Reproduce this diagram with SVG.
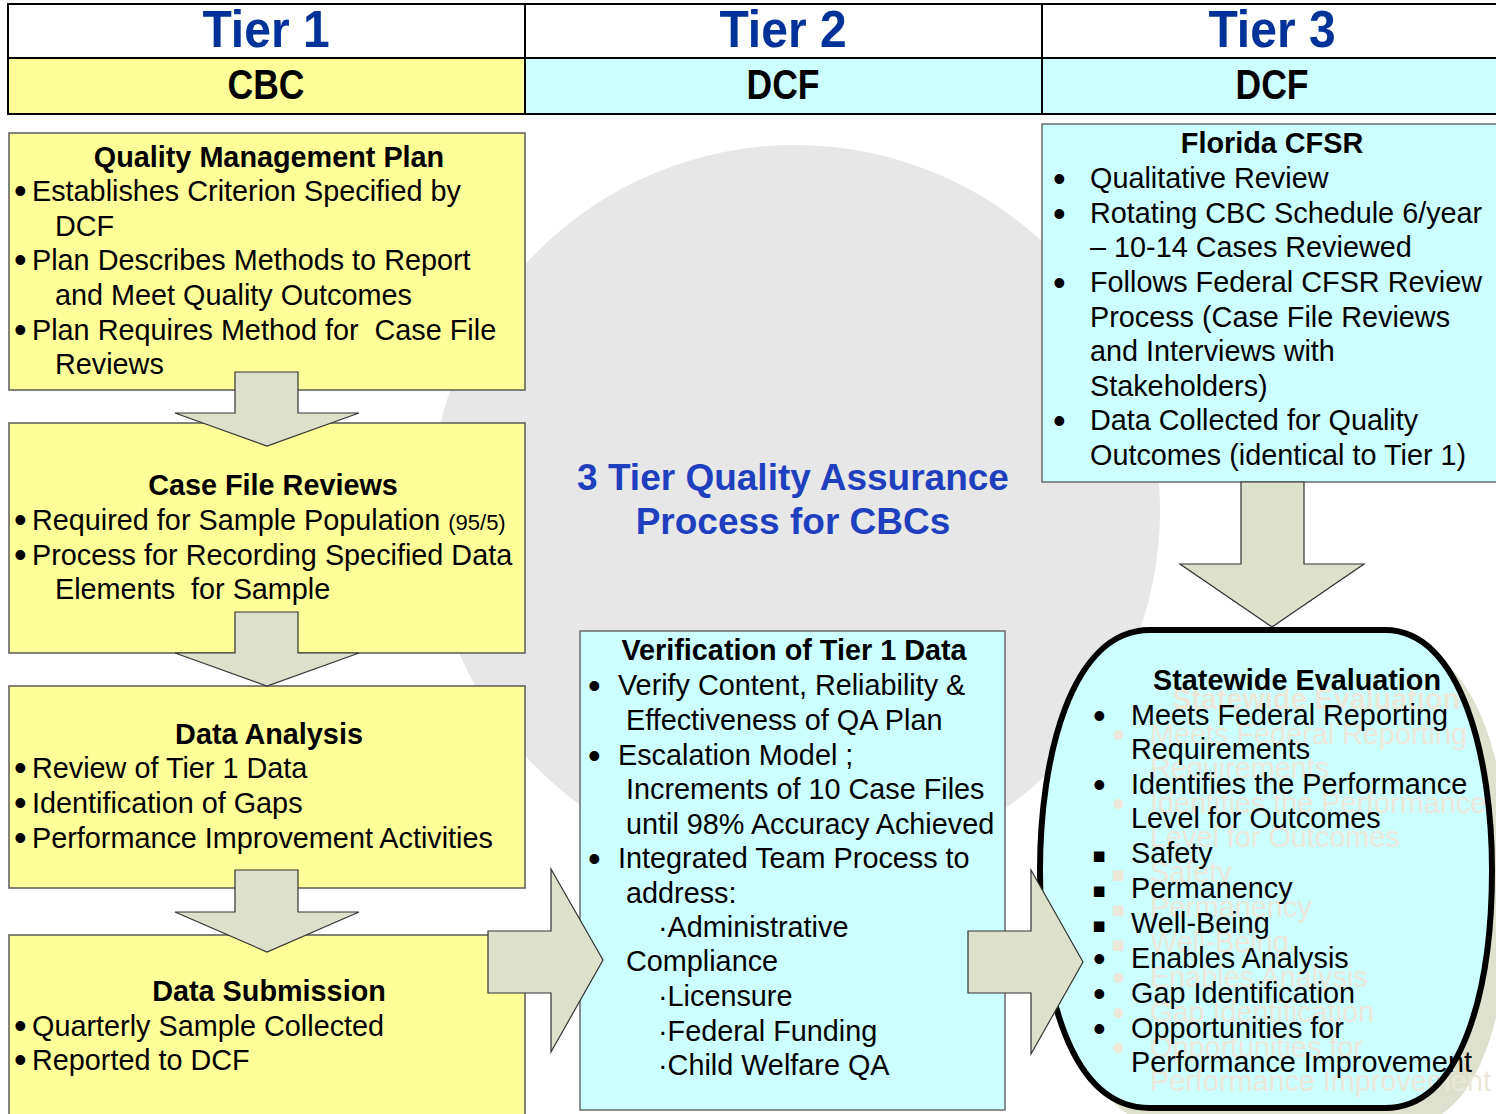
<svg xmlns="http://www.w3.org/2000/svg" width="1496" height="1114" viewBox="0 0 1496 1114">
<style>
text{font-family:"Liberation Sans",Arial,sans-serif;font-size:28.8px;fill:#000;white-space:pre}
.b{font-weight:bold}
.m{text-anchor:middle}
.hd{font-weight:bold;text-anchor:middle}
.tier{fill:#003399;font-size:48px}
.org{font-size:35.5px}
.box1{fill:#ffff99;stroke:#5a5a5a;stroke-width:1.5}
.box2{fill:#ccffff;stroke:#6a6a6a;stroke-width:1.5}
.arr{fill:#dde0cb;stroke:#333;stroke-width:1.2;stroke-linejoin:miter}
.bl{font-size:36px}
.sq{font-family:"DejaVu Sans",sans-serif;font-size:21px}
.ghost text{fill:#ebe8d9}
</style>
<defs>
<path id="oval" d="M1150,630 L1385,630 C1462,630 1492,760 1492,870 C1492,990 1462,1108 1385,1108 L1150,1108 C1070,1108 1040,990 1040,870 C1040,760 1070,630 1150,630 Z"/>
</defs>
<rect width="1496" height="1114" fill="#fff"/>
<circle id="bg-circle" cx="795" cy="510" r="365" fill="#e7e7e7"/>

<g id="header">
<rect x="8" y="58" width="517" height="56" fill="#ffff99"/>
<rect x="525" y="58" width="975" height="56" fill="#ccffff"/>
<rect x="8" y="4" width="1500" height="110" fill="none" stroke="#000" stroke-width="2"/>
<line x1="8" y1="58" x2="1496" y2="58" stroke="#000" stroke-width="2"/>
<line x1="525" y1="4" x2="525" y2="114" stroke="#000" stroke-width="2"/>
<line x1="1042" y1="4" x2="1042" y2="114" stroke="#000" stroke-width="2"/>
<text class="hd tier" transform="translate(266,47) scale(1,1.09)">Tier 1</text>
<text class="hd tier" transform="translate(783,47) scale(1,1.09)">Tier 2</text>
<text class="hd tier" transform="translate(1272,47) scale(1,1.09)">Tier 3</text>
<text class="hd org" transform="translate(266,99) scale(1,1.18)">CBC</text>
<text class="hd org" transform="translate(783,99) scale(1,1.18)">DCF</text>
<text class="hd org" transform="translate(1272,99) scale(1,1.18)">DCF</text>
</g>

<g id="quality-management-plan">
<rect class="box1" x="9" y="133" width="516" height="257"/>
<text class="b m" x="269" y="167">Quality Management Plan</text>
<text class="bl" x="14" y="203">•</text><text x="32" y="201">Establishes Criterion Specified by</text>
<text x="55" y="236">DCF</text>
<text class="bl" x="14" y="272">•</text><text x="32" y="270">Plan Describes Methods to Report</text>
<text x="55" y="305">and Meet Quality Outcomes</text>
<text class="bl" x="14" y="342">•</text><text x="32" y="340">Plan Requires Method for  Case File</text>
<text x="55" y="374">Reviews</text>
</g>

<g id="case-file-reviews">
<rect class="box1" x="9" y="423" width="516" height="230"/>
<text class="b m" x="273" y="495">Case File Reviews</text>
<text class="bl" x="14" y="532">•</text><text x="32" y="530">Required for Sample Population <tspan font-size="22">(95/5)</tspan></text>
<text class="bl" x="14" y="567">•</text><text x="32" y="565">Process for Recording Specified Data</text>
<text x="55" y="599">Elements  for Sample</text>
</g>

<g id="data-analysis">
<rect class="box1" x="9" y="686" width="516" height="202"/>
<text class="b m" x="269" y="744">Data Analysis</text>
<text class="bl" x="14" y="780">•</text><text x="32" y="778">Review of Tier 1 Data</text>
<text class="bl" x="14" y="815">•</text><text x="32" y="813">Identification of Gaps</text>
<text class="bl" x="14" y="850">•</text><text x="32" y="848">Performance Improvement Activities</text>
</g>

<g id="data-submission">
<rect class="box1" x="9" y="935" width="516" height="190"/>
<text class="b m" x="269" y="1001">Data Submission</text>
<text class="bl" x="14" y="1038">•</text><text x="32" y="1036">Quarterly Sample Collected</text>
<text class="bl" x="14" y="1072">•</text><text x="32" y="1070">Reported to DCF</text>
</g>

<g id="title">
<text class="b m" x="793" y="490" style="font-size:37px;fill:#1f3fbf">3 Tier Quality Assurance</text>
<text class="b m" x="793" y="534" style="font-size:37px;fill:#1f3fbf">Process for CBCs</text>
</g>

<g id="verification">
<rect class="box2" x="580" y="631" width="425" height="479"/>
<text class="b m" x="794" y="660">Verification of Tier 1 Data</text>
<text class="bl" x="588" y="698">•</text><text x="618" y="695">Verify Content, Reliability &amp;</text>
<text x="626" y="730">Effectiveness of QA Plan</text>
<text class="bl" x="588" y="768">•</text><text x="618" y="765">Escalation Model ;</text>
<text x="626" y="799">Increments of 10 Case Files</text>
<text x="626" y="834">until 98% Accuracy Achieved</text>
<text class="bl" x="588" y="871">•</text><text x="618" y="868">Integrated Team Process to</text>
<text x="626" y="903">address:</text>
<text x="658" y="937">·Administrative</text>
<text x="626" y="971">Compliance</text>
<text x="658" y="1006">·Licensure</text>
<text x="658" y="1041">·Federal Funding</text>
<text x="658" y="1075">·Child Welfare QA</text>
</g>

<g id="florida-cfsr">
<rect class="box2" x="1042" y="124" width="470" height="358"/>
<text class="b m" x="1272" y="153">Florida CFSR</text>
<text class="bl" x="1053" y="191">•</text><text x="1090" y="188">Qualitative Review</text>
<text class="bl" x="1053" y="226">•</text><text x="1090" y="223">Rotating CBC Schedule 6/year</text>
<text x="1090" y="257">– 10-14 Cases Reviewed</text>
<text class="bl" x="1053" y="295">•</text><text x="1090" y="292">Follows Federal CFSR Review</text>
<text x="1090" y="327">Process (Case File Reviews</text>
<text x="1090" y="361">and Interviews with</text>
<text x="1090" y="396">Stakeholders)</text>
<text class="bl" x="1053" y="433">•</text><text x="1090" y="430">Data Collected for Quality</text>
<text x="1090" y="465">Outcomes (identical to Tier 1)</text>
</g>

<g id="statewide-evaluation">
<use href="#oval" transform="translate(18,18)" fill="#dfe1cf"/>
<use href="#oval" fill="#ccffff"/>
<g class="ghost" transform="translate(19,19)">
<text class="b" x="1153" y="690">Statewide Evaluation</text>
<text class="bl" x="1093" y="728">•</text><text x="1131" y="725">Meets Federal Reporting</text>
<text x="1131" y="759">Requirements</text>
<text class="bl" x="1093" y="797">•</text><text x="1131" y="794">Identifies the Performance</text>
<text x="1131" y="828">Level for Outcomes</text>
<text class="sq" x="1092" y="862">▪</text><text x="1131" y="863">Safety</text>
<text class="sq" x="1092" y="897">▪</text><text x="1131" y="898">Permanency</text>
<text class="sq" x="1092" y="932">▪</text><text x="1131" y="933">Well-Being</text>
<text class="bl" x="1093" y="971">•</text><text x="1131" y="968">Enables Analysis</text>
<text class="bl" x="1093" y="1006">•</text><text x="1131" y="1003">Gap Identification</text>
<text class="bl" x="1093" y="1041">•</text><text x="1131" y="1038">Opportunities for</text>
<text x="1131" y="1072">Performance Improvement</text>
</g>
<text class="b" x="1153" y="690">Statewide Evaluation</text>
<text class="bl" x="1093" y="728">•</text><text x="1131" y="725">Meets Federal Reporting</text>
<text x="1131" y="759">Requirements</text>
<text class="bl" x="1093" y="797">•</text><text x="1131" y="794">Identifies the Performance</text>
<text x="1131" y="828">Level for Outcomes</text>
<text class="sq" x="1092" y="862">▪</text><text x="1131" y="863">Safety</text>
<text class="sq" x="1092" y="897">▪</text><text x="1131" y="898">Permanency</text>
<text class="sq" x="1092" y="932">▪</text><text x="1131" y="933">Well-Being</text>
<text class="bl" x="1093" y="971">•</text><text x="1131" y="968">Enables Analysis</text>
<text class="bl" x="1093" y="1006">•</text><text x="1131" y="1003">Gap Identification</text>
<text class="bl" x="1093" y="1041">•</text><text x="1131" y="1038">Opportunities for</text>
<text x="1131" y="1072">Performance Improvement</text>
<use href="#oval" fill="none" stroke="#000" stroke-width="6"/>
</g>

<g id="connectors">
<path class="arr" d="M235,372 H298 V413 H359 L267,446 L175,413 H235 Z"/>
<path class="arr" d="M235,612 H298 V653 H359 L267,686 L175,653 H235 Z"/>
<path class="arr" d="M235,870 H298 V912 H359 L267,952 L175,912 H235 Z"/>
<path class="arr" d="M488,931 H551 V869 L603,960 L551,1052 V993 H488 Z"/>
<path class="arr" d="M968,931 H1031 V870 L1083,962 L1031,1054 V993 H968 Z"/>
<path class="arr" d="M1241,482 H1304 V564 H1364 L1272,627 L1180,564 H1241 Z"/>
</g>
</svg>
